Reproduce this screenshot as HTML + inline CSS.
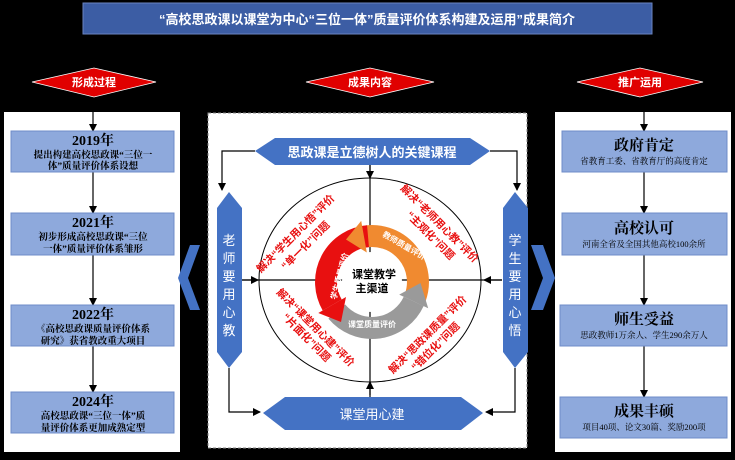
<!DOCTYPE html>
<html><head><meta charset="utf-8"><style>
body{margin:0;width:735px;height:455px;background:#000;overflow:hidden;font-family:"Liberation Serif","Noto Serif CJK SC",serif}
</style></head><body>
<svg width="735" height="455" xmlns="http://www.w3.org/2000/svg" font-family="'Liberation Sans','Noto Sans CJK SC',sans-serif">
<defs><marker id="a" markerWidth="8" markerHeight="8" refX="7" refY="4" orient="auto" markerUnits="userSpaceOnUse"><path d="M0,0 L8,4 L0,8z" fill="#000"/></marker></defs>
<rect x="0" y="0" width="735" height="455" fill="#000"/>
<rect x="83" y="3" width="569" height="31" fill="#3c5da4" stroke="#6a84c0"/>
<text x="367" y="24" text-anchor="middle" fill="#fff" font-size="13" font-weight="bold">“高校思政课以课堂为中心“三位一体”质量评价体系构建及运用”成果简介</text>
<g fill="#e00000" stroke="#fff" stroke-width="0.8">
<polygon points="32,82 94,68 156,82 94,97"/><polygon points="306,82 370,68 434,82 370,97"/><polygon points="577,82 640,68 703,82 640,97"/></g>
<g fill="#fff" font-size="11" font-weight="bold" text-anchor="middle"><text x="94" y="86">形成过程</text><text x="370" y="86">成果内容</text><text x="640" y="86">推广运用</text></g>
<rect x="4" y="112" width="176" height="340" fill="#fff"/>
<rect x="555" y="112" width="176" height="340" fill="#fff"/>
<rect x="208" y="113" width="319" height="335" fill="#fff" stroke="#888" stroke-dasharray="3,2"/>
<g stroke="#000" stroke-width="1.2" marker-end="url(#a)">
<line x1="93" y1="112" x2="93" y2="131"/><line x1="93" y1="172" x2="93" y2="213"/><line x1="93" y1="255" x2="93" y2="305"/><line x1="93" y1="346" x2="93" y2="392"/>
<line x1="644" y1="112" x2="644" y2="131"/><line x1="644" y1="172" x2="644" y2="213"/><line x1="644" y1="255" x2="644" y2="305"/><line x1="644" y1="346" x2="644" y2="397"/>
</g>
<g fill="#8ea9dc" stroke="#6f8cc8">
<rect x="11" y="131" width="163" height="41"/><rect x="11" y="213" width="163" height="42"/><rect x="11" y="305" width="163" height="41"/><rect x="11" y="392" width="163" height="41"/>
<rect x="562" y="131" width="165" height="41"/><rect x="562" y="213" width="165" height="42"/><rect x="560" y="305" width="167" height="41"/><rect x="560" y="397" width="167" height="41"/>
</g>
<g font-family="'Liberation Serif','Noto Serif CJK SC',serif" text-anchor="middle" fill="#000">
<g font-size="14" font-weight="bold"><text x="93" y="145">2019年</text><text x="93" y="227">2021年</text><text x="93" y="319">2022年</text><text x="93" y="406">2024年</text></g>
<g font-size="9.5" font-weight="bold"><text x="93" y="158">提出构建高校思政课“三位一</text><text x="93" y="169">体”质量评价体系设想</text>
<text x="93" y="240">初步形成高校思政课“三位</text><text x="93" y="252">一体”质量评价体系雏形</text>
<text x="93" y="332">《高校思政课质量评价体系</text><text x="93" y="344">研究》获省教改重大项目</text>
<text x="93" y="419">高校思政课“三位一体”质</text><text x="93" y="431">量评价体系更加成熟定型</text></g>
<g font-size="15" font-weight="bold"><text x="644" y="150">政府肯定</text><text x="644" y="233">高校认可</text><text x="644" y="324">师生受益</text><text x="644" y="416">成果丰硕</text></g>
<g font-size="8.5"><text x="644" y="164">省教育工委、省教育厅的高度肯定</text><text x="644" y="247">河南全省及全国其他高校100余所</text><text x="644" y="338">思政教师1万余人、学生290余万人</text><text x="644" y="430">项目40项、论文30篇、奖励200项</text></g>
</g>
<polygon points="200,245 190,245 178,278 190,310 200,310 188,278" fill="#4472c4"/>
<polygon points="531,245 543,245 555,278 543,310 531,310 543,278" fill="#4472c4"/>
<ellipse cx="370" cy="280" rx="111" ry="102" fill="#fff" stroke="#000"/>
<g stroke="#000" stroke-width="1.2">
<line x1="370" y1="165" x2="370" y2="395"/>
<line x1="242" y1="280" x2="502" y2="280"/>
</g>
<g stroke="#000" stroke-width="1.2" fill="none" marker-end="url(#a)">
<polyline points="255,151 222,151 222,190"/><polyline points="490,151 517,151 517,190"/>
<polyline points="229,368 229,412 260,412"/><polyline points="515,368 515,412 486,412"/>
<line x1="370" y1="165" x2="370" y2="178"/><line x1="370" y1="397" x2="370" y2="382"/>
<line x1="242" y1="280" x2="258" y2="280"/><line x1="502" y1="280" x2="484" y2="280"/>
</g>
<g fill="#4472c4">
<polygon points="255,151 275,138 470,138 490,151 470,165 275,165"/>
<polygon points="263,413 285,397 461,397 483,413 461,430 285,430"/>
<polygon points="217,208 229,192 242,208 242,352 229,368 217,352"/>
<polygon points="503,208 515,192 528,208 528,352 515,368 503,352"/>
</g>
<g fill="#fff" text-anchor="middle">
<text x="372" y="157" font-size="13" font-weight="bold">思政课是立德树人的关键课程</text>
<text x="372" y="419" font-size="13">课堂用心建</text>
<g font-size="13"><text x="229" y="245">老</text><text x="229" y="263">师</text><text x="229" y="281">要</text><text x="229" y="299">用</text><text x="229" y="317">心</text><text x="229" y="335">教</text>
<text x="515" y="245">学</text><text x="515" y="263">生</text><text x="515" y="281">要</text><text x="515" y="299">用</text><text x="515" y="317">心</text><text x="515" y="335">悟</text></g>
</g>
<!-- cycle arrows -->
<g fill="none" stroke-width="22">
<path d="M336.8,311.6 A46,46 0 0 0 413.7,301.4" stroke="#9a9a9a"/>
<path d="M415.2,297.7 A46,46 0 0 0 364,236.7" stroke="#f08a30"/>
<path d="M368,236.2 A46,46 0 0 0 332.2,305" stroke="#e81010"/>
</g>
<polygon points="428.2,308.2 399.2,294.6 420.5,283" fill="#9a9a9a"/>
<polygon points="361.2,220.9 366.8,252.5 346,239.5" fill="#f08a30"/>
<polygon points="318.3,313 346,297 341,322" fill="#e81010"/>
<circle cx="372" cy="282" r="30" fill="#fff"/>
<g font-size="11" font-weight="bold" text-anchor="middle" fill="#000"><text x="374" y="278">课堂教学</text><text x="372" y="292">主渠道</text></g>
<g font-size="8" fill="#fff" font-weight="bold"><text transform="translate(336,300) rotate(-75)">学生质量评价</text><text transform="translate(382,236) rotate(30)">教师质量评价</text><text x="348" y="327">课堂质量评价</text></g>
<g font-size="10.5" font-weight="bold" fill="#e81010" text-anchor="middle">
<text transform="translate(298,236) rotate(-45)">解决“学生用心悟”评价</text><text transform="translate(308,248) rotate(-45)">“单一化”问题</text>
<text transform="translate(437,226) rotate(45)">解决“老师用心教”评价</text><text transform="translate(428,238) rotate(45)">“主观化”问题</text>
<text transform="translate(313,330) rotate(45)">解决“课堂用心建”评价</text><text transform="translate(304,340) rotate(45)">“片面化”问题</text>
<text transform="translate(430,337) rotate(-45)">解决“思政课质量”评价</text><text transform="translate(438,349) rotate(-45)">“错位化”问题</text>
</g>
</svg>
</body></html>
